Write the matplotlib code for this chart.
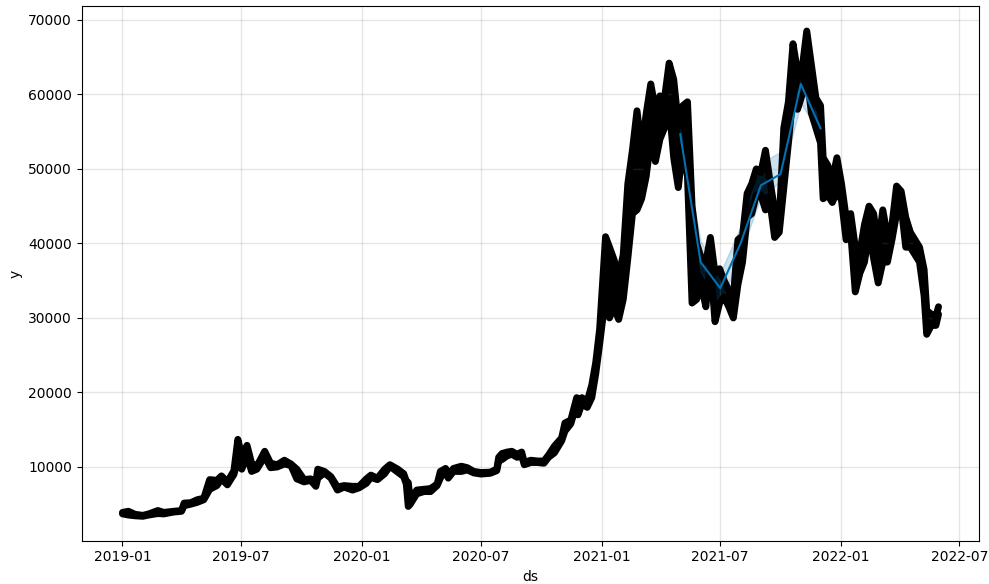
import numpy as np
import pandas as pd
import matplotlib
matplotlib.use('Agg')
import matplotlib.pyplot as plt

# observed hourly prices, summarised as (low, high) of the dot cloud around each date
obs_dates = [
    '2019-01-01', '2019-01-10', '2019-01-20', '2019-02-01', '2019-02-10', '2019-02-24',
    '2019-03-05', '2019-03-20', '2019-04-01', '2019-04-05', '2019-04-15', '2019-04-25',
    '2019-05-05', '2019-05-14', '2019-05-25', '2019-06-01', '2019-06-10', '2019-06-20',
    '2019-06-26', '2019-07-02', '2019-07-10', '2019-07-17', '2019-07-25', '2019-08-06',
    '2019-08-15', '2019-08-25', '2019-09-05', '2019-09-15', '2019-09-24', '2019-10-05',
    '2019-10-15', '2019-10-23', '2019-10-26', '2019-11-05', '2019-11-15', '2019-11-25',
    '2019-12-05', '2019-12-18', '2019-12-28', '2020-01-08', '2020-01-15', '2020-01-25',
    '2020-02-05', '2020-02-13', '2020-02-25', '2020-03-05', '2020-03-09', '2020-03-12',
    '2020-03-15', '2020-03-25', '2020-04-05', '2020-04-15', '2020-04-25', '2020-04-30',
    '2020-05-08', '2020-05-12', '2020-05-20', '2020-06-01', '2020-06-10', '2020-06-20',
    '2020-07-01', '2020-07-15', '2020-07-25', '2020-07-28', '2020-08-02', '2020-08-10',
    '2020-08-17', '2020-08-25', '2020-09-01', '2020-09-05', '2020-09-15', '2020-09-25',
    '2020-10-05', '2020-10-12', '2020-10-21', '2020-11-01', '2020-11-06', '2020-11-15',
    '2020-11-24', '2020-11-26', '2020-12-02', '2020-12-10', '2020-12-17', '2020-12-23',
    '2020-12-29', '2021-01-07', '2021-01-13', '2021-01-20', '2021-01-27', '2021-02-03',
    '2021-02-10', '2021-02-17', '2021-02-24', '2021-03-03', '2021-03-10', '2021-03-17',
    '2021-03-24', '2021-03-31', '2021-04-07', '2021-04-14', '2021-04-21', '2021-04-28',
    '2021-05-05', '2021-05-12', '2021-05-19', '2021-05-26', '2021-06-02', '2021-06-09',
    '2021-06-16', '2021-06-23', '2021-06-30', '2021-07-07', '2021-07-14', '2021-07-21',
    '2021-07-28', '2021-08-04', '2021-08-11', '2021-08-18', '2021-08-25', '2021-09-01',
    '2021-09-08', '2021-09-15', '2021-09-22', '2021-09-29', '2021-10-06', '2021-10-13',
    '2021-10-20', '2021-10-27', '2021-11-03', '2021-11-10', '2021-11-17', '2021-11-24',
    '2021-12-01', '2021-12-05', '2021-12-12', '2021-12-19', '2021-12-26', '2022-01-02',
    '2022-01-09', '2022-01-16', '2022-01-23', '2022-01-30', '2022-02-06', '2022-02-13',
    '2022-02-20', '2022-02-27', '2022-03-06', '2022-03-13', '2022-03-20', '2022-03-27',
    '2022-04-03', '2022-04-10', '2022-04-17', '2022-04-24', '2022-05-01', '2022-05-08',
    '2022-05-12', '2022-05-19', '2022-05-26', '2022-05-30',
]
obs_low = [
    3700, 3550, 3450, 3380, 3550, 3750,
    3700, 3950, 4050, 4800, 5000, 5250,
    5600, 7000, 7500, 8400, 7600, 9000,
    11000, 9700, 11500, 9400, 9700, 11400,
    9900, 10000, 10400, 10200, 8400, 8000,
    8200, 7400, 8500, 9200, 8500, 6900,
    7300, 6900, 7200, 7800, 8600, 8300,
    9100, 10100, 9300, 8700, 7700, 4700,
    5000, 6400, 6700, 6700, 7500, 8500,
    9600, 8500, 9400, 9400, 9600, 9200,
    9050, 9150, 9500, 10800, 11000, 11500,
    11700, 11300, 11500, 10300, 10600, 10600,
    10500, 11300, 11900, 13500, 14800, 15800,
    18500, 17000, 18500, 18000, 19300, 22500,
    26500, 33000, 30000, 31500, 29800, 32500,
    38000, 44000, 44500, 46000, 49000, 54000,
    51000, 54000, 55500, 58500, 51500, 47500,
    53000, 49000, 32000, 32500, 34500, 31500,
    37500, 29500, 32000, 32800, 31500, 30000,
    34500, 37500, 43500, 44000, 46500, 46500,
    44500, 45500, 40800, 41500, 47500, 53500,
    60000, 58000, 60000, 63000, 57500, 55500,
    53500, 46000, 46500, 45500, 47000, 45800,
    40500, 41500, 33500, 36000, 37500, 41500,
    38000, 34700, 37500, 37500, 40500, 44000,
    45000, 39500, 39500, 38500, 37500, 33000,
    27800, 29000, 29000, 30500,
]
obs_high = [
    3900, 4050, 3650, 3500, 3700, 4150,
    3900, 4050, 4150, 5150, 5200, 5600,
    5800, 8300, 8200, 8800, 8000, 9500,
    13700, 11500, 12900, 10500, 10100, 12100,
    10500, 10300, 10900, 10400, 9700, 8300,
    8400, 8000, 9700, 9400, 8700, 7300,
    7500, 7400, 7400, 8400, 8900, 8500,
    9700, 10300, 9700, 9100, 8100, 7900,
    5600, 6900, 7000, 7100, 7700, 9400,
    9800, 8900, 9800, 10100, 9900, 9400,
    9250, 9300, 9700, 11300, 11800, 12000,
    12100, 11700, 12000, 10600, 10900, 10800,
    10800, 11600, 12800, 13900, 15900, 16300,
    19300, 17500, 19300, 18800, 21000, 24000,
    28500, 40900, 39500, 37800, 35500, 38500,
    48000, 52500, 57800, 52500, 57400, 61400,
    58000, 59800, 59500, 64200, 62000, 56000,
    58500, 59000, 45000, 40000, 38000, 37500,
    40800, 36000, 36600, 35000, 33700, 32800,
    40500, 41000, 46700, 48000, 50000, 49500,
    52500, 48300, 44500, 43000, 55500, 59000,
    66800, 63000, 63500, 68500, 64000, 59500,
    58500, 51500, 50500, 48500, 51500, 48000,
    43500, 44000, 39500, 38800, 42500, 45000,
    44000, 39500, 44500, 41000, 42500, 47700,
    47000, 43500, 41500, 40500, 39500, 36500,
    31000, 30500, 30200, 31500,
]

# forecast (monthly) with uncertainty interval
fcst_dates = ['2021-05-01', '2021-06-01', '2021-07-01', '2021-08-01',
              '2021-09-01', '2021-10-01', '2021-11-01', '2021-12-01']
yhat = [54650, 37500, 34000, 40000, 47800, 49300, 61400, 55450]
yhat_lower = [53800, 36200, 31800, 38600, 46300, 48300, 58800, 54600]
yhat_upper = [55300, 40300, 36000, 42300, 50800, 52300, 62000, 56300]

ds = pd.to_datetime(obs_dates)
fds = pd.to_datetime(fcst_dates)

fig = plt.figure(facecolor='w', figsize=(9.89, 5.84), dpi=100)
ax = fig.add_subplot(111)

ax.fill_between(ds, obs_low, obs_high, color='k', lw=0)
ax.plot(ds, obs_low, 'k-', lw=5, solid_joinstyle='round', solid_capstyle='round')
ax.plot(ds, obs_high, 'k-', lw=5, solid_joinstyle='round', solid_capstyle='round')

ax.plot(fds, yhat, ls='-', c='#0072B2')
ax.fill_between(fds, yhat_lower, yhat_upper, color='#0072B2', alpha=0.2)

ax.grid(True, which='major', c='gray', ls='-', lw=1, alpha=0.2)
ax.set_xlabel('ds')
ax.set_ylabel('y')
ax.set_ylim(100, 71800)

fig.subplots_adjust(left=0.0826, right=0.9902, top=0.9889, bottom=0.0741)
fig.savefig('out.png', dpi=100)
